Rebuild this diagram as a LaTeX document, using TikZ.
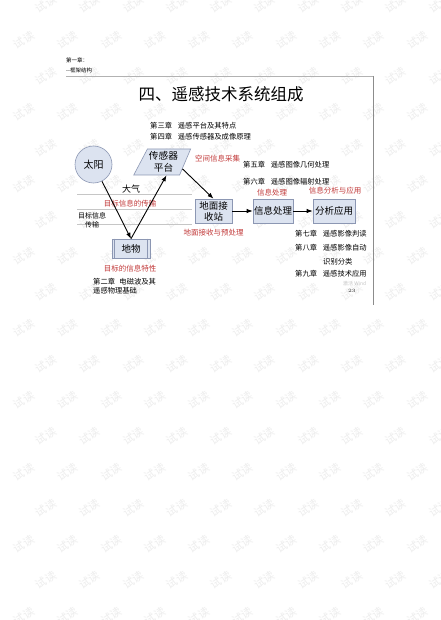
\documentclass[tikz,border=0pt]{standalone}
\usepackage{fontspec}
\newfontfamily\cjk{Noto Sans CJK SC}
\usetikzlibrary{shapes.geometric,arrows.meta}
\definecolor{boxfill}{HTML}{DCE3F0}
\definecolor{boxline}{HTML}{8C97B3}
\definecolor{lab}{HTML}{C23A3A}
\definecolor{wmcol}{HTML}{EDEDED}
\tikzset{
  every node/.style={inner sep=0pt},
  wmark/.style={font=\cjk\fontsize{11}{12}\selectfont, text=wmcol, rotate=32},
  small/.style={font=\cjk\fontsize{7.3}{8.5}\selectfont, anchor=west},
  redlab/.style={font=\cjk\fontsize{7.5}{9}\selectfont, text=lab},
  boxnode/.style={draw=boxline, fill=boxfill, line width=0.6pt, minimum height=24pt, align=center, font=\cjk\fontsize{9.5}{11}\selectfont},
  arr/.style={line width=0.9pt, -{Latex[length=6pt,width=4.5pt]}},
  guide/.style={draw=gray!45, line width=0.6pt}
}
\begin{document}
\begin{tikzpicture}[x=1pt,y=-1pt]
\useasboundingbox (0,0) rectangle (440,620);
\fill[white] (0,0) rectangle (440,620);
% watermark
\foreach \r in {0,...,17} {
  \pgfmathsetmacro\yy{4+36*\r}
  \pgfmathsetmacro\xs{mod(\r,2)==0 ? 46 : 24}
  \foreach \c in {0,...,9} {
    \node[wmark] (wm-\r-\c) at ({\xs+43.7*\c},\yy) {试读};
  }
}
% header
\node[anchor=west, font=\cjk\fontsize{5.5}{6}\selectfont] (h1) at (66,60) {第一章：};
\node[anchor=west, font=\cjk\fontsize{5.5}{6}\selectfont] (h2) at (66,70) {--框架结构};
% slide frame
\draw[gray!60, line width=0.6pt] (66,76) -- (373,76);
\draw[gray!90, line width=0.8pt] (373,76) -- (373,305);
% title
\node[font=\cjk\fontsize{16.5}{18}\selectfont] (title) at (221,94) {四、遥感技术系统组成};
% chapter notes
\node[small] (c3) at (150,126) {第三章\hspace{0.8em}遥感平台及其特点};
\node[small] (c4) at (150,137) {第四章\hspace{0.8em}遥感传感器及成像原理};
\node[small] (c5) at (243,165) {第五章\hspace{0.8em}遥感图像几何处理};
\node[small] (c6) at (243,182) {第六章\hspace{0.8em}遥感图像辐射处理};
\node[small] (c7) at (295,234) {第七章\hspace{0.8em}遥感影像判读};
\node[small] (c8) at (295,248) {第八章\hspace{0.8em}遥感影像自动};
\node[small] (c8b) at (323,262) {识别分类};
\node[small] (c9) at (295,274) {第九章\hspace{0.8em}遥感技术应用};
\node[small] (c2) at (93,282) {第二章\hspace{0.6em}电磁波及其};
\node[small] (c2b) at (93,291) {遥感物理基础};
% horizontal guide lines
\draw[guide] (77,194) -- (192,194);
\draw[guide] (77,209) -- (192,209);
\draw[guide] (77,224) -- (192,224);
\node[font=\cjk\fontsize{9}{10}\selectfont, fill=white, inner sep=0.5pt] (dq) at (131,189) {大气};
\node[redlab] (l1) at (130,204) {目标信息的传输};
\node[font=\cjk\fontsize{7}{9}\selectfont, align=center] (l2) at (92,220) {目标信息\\传输};
% shapes
\node[circle, draw=boxline, fill=boxfill, line width=0.6pt, minimum size=37pt,
      font=\cjk\fontsize{10}{12}\selectfont] (sun) at (93.5,164.5) {太阳};
\node[trapezium, trapezium left angle=60, trapezium right angle=115, trapezium stretches=true,
      draw=boxline, fill=boxfill, line width=0.6pt, minimum width=57pt, minimum height=26pt,
      align=center, font=\cjk\fontsize{9.7}{12.5}\selectfont] (sensor) at (163.5,162) {传感器\\平台};
\node[boxnode, minimum width=38pt, minimum height=19pt] (diwu) at (131,248.5) {地物};
\draw[boxline, line width=0.5pt] ([xshift=3pt]diwu.north west) -- ([xshift=3pt]diwu.south west);
\draw[boxline, line width=0.5pt] ([xshift=-3pt]diwu.north east) -- ([xshift=-3pt]diwu.south east);
\node[boxnode, minimum width=37pt] (jieshou) at (213.5,211) {地面接\\收站};
\node[boxnode, minimum width=40pt] (xinxi) at (273,211) {信息处理};
\node[boxnode, minimum width=42pt] (fenxi) at (334,211) {分析应用};
% red labels
\node[redlab, anchor=west] (r1) at (195,159) {空间信息采集};
\node[redlab] (r2) at (213.5,233) {地面接收与预处理};
\node[redlab] (r3) at (272,193) {信息处理};
\node[redlab] (r4) at (335,191) {信息分析与应用};
\node[redlab] (r5) at (130,269) {目标的信息特性};
% connectors
\draw[arr] (sun) -- (diwu.north);
\draw[arr] (diwu.north) -- ([xshift=3pt]sensor.south);
\draw[arr] (sensor.-20) -- (jieshou.north);
\draw[arr] (jieshou) -- (xinxi);
\draw[arr] (xinxi) -- (fenxi);
% faint screen artifacts
\node[anchor=west, font=\fontsize{5}{6}\selectfont\cjk, text=gray!45] (act) at (343,284) {激活 Wind};
\node[anchor=west, font=\fontsize{5}{6}\selectfont\bfseries, text=gray!80!black] (pg) at (348,291) {23};
\end{tikzpicture}
\end{document}
